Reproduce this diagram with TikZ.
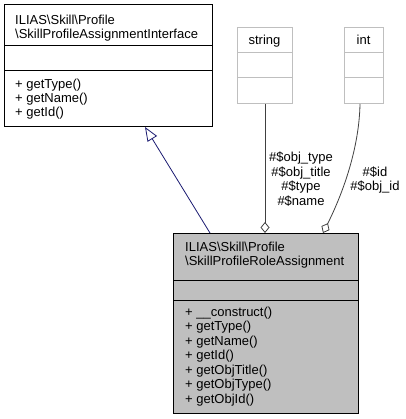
\documentclass[tikz,border=0pt]{standalone}
\usepackage{fontspec}
\setmainfont{Liberation Sans}
\usetikzlibrary{arrows.meta}
\definecolor{edgeblue}{HTML}{191970}
\definecolor{lgray}{HTML}{BFBFBF}
\definecolor{dgray}{HTML}{404040}
\tikzset{
  box/.style={draw=black, line width=1pt, inner sep=0pt, anchor=north west},
  typebox/.style={draw=lgray, line width=1pt, fill=white, inner sep=0pt, anchor=north west},
  txt/.style={anchor=base west, inner sep=0pt, font=\fontsize{13}{14.5}\selectfont},
  ctxt/.style={anchor=base, inner sep=0pt, font=\fontsize{13}{14.5}\selectfont},
  lbl/.style={align=center, inner sep=0pt, font=\fontsize{13}{14.5}\selectfont},
  assoc/.style={draw=dgray, line width=0.8pt, -{Diamond[open,length=11pt,width=9pt,line width=0.8pt]}},
  inherit/.style={draw=edgeblue, line width=0.8pt, -{Triangle[open,length=14pt,width=11pt,line width=0.8pt]}}
}
\begin{document}
\begin{tikzpicture}[x=1pt,y=-1pt]
\useasboundingbox (0,0) rectangle (405,419);
% interface box
\node[box, minimum width=208pt, minimum height=122pt] (iface) at (4,4) {};
\draw[line width=1pt] (4,46) -- (212,46) (4,71) -- (212,71);
\node[txt] (i1) at (15,25) {ILIAS\textbackslash Skill\textbackslash Profile};
\node[txt] (i2) at (15,38.5) {\textbackslash SkillProfileAssignmentInterface};
\node[txt] (i3) at (15,89) {+ getType()};
\node[txt] (i4) at (15,103) {+ getName()};
\node[txt] (i5) at (15,117) {+ getId()};
% string box
\node[typebox, minimum width=55pt, minimum height=76pt] (str) at (237,27) {};
\draw[lgray, line width=1pt] (237,53) -- (292,53) (237,78) -- (292,78);
\node[ctxt] (strt) at (264.5,44.5) {string};
% int box
\node[typebox, minimum width=39pt, minimum height=76pt] (int) at (344,27) {};
\draw[lgray, line width=1pt] (344,53) -- (383,53) (344,78) -- (383,78);
\node[ctxt] (intt) at (363.5,44.5) {int};
% class box
\node[box, fill=lgray, minimum width=185pt, minimum height=180pt] (cls) at (173,233) {};
\draw[line width=1pt] (173,280) -- (358,280) (173,300) -- (358,300);
\node[txt] (c1) at (185,251) {ILIAS\textbackslash Skill\textbackslash Profile};
\node[txt] (c2) at (185,265) {\textbackslash SkillProfileRoleAssignment};
\node[txt] (m1) at (185,316) {+ \_\_construct()};
\node[txt] (m2) at (185,330.5) {+ getType()};
\node[txt] (m3) at (185,345) {+ getName()};
\node[txt] (m4) at (185,359.5) {+ getId()};
\node[txt] (m5) at (185,374) {+ getObjTitle()};
\node[txt] (m6) at (185,388.5) {+ getObjType()};
\node[txt] (m7) at (185,403) {+ getObjId()};
% connectors
\coordinate (inhS) at ([xshift=37pt]cls.north west);
\coordinate (inhT) at ([xshift=141pt]iface.south west);
\draw[inherit] (inhS) -- (inhT);
\coordinate (strS) at (str.south);
\coordinate (strT) at (str.south |- cls.north);
\draw[assoc] (strS) -- (strT);
\coordinate (intS) at ([xshift=-4pt]int.south);
\coordinate (intT) at ([xshift=150pt]cls.north west);
\draw[assoc] (intS) .. controls (359,155) and (338,203) .. (intT);
% labels
\node[lbl] (l1) at (301,179) {\#\$obj\_type\\\#\$obj\_title\\\#\$type\\\#\$name};
\node[lbl] (l2) at (375,180) {\#\$id\\\#\$obj\_id};
\end{tikzpicture}
\end{document}
